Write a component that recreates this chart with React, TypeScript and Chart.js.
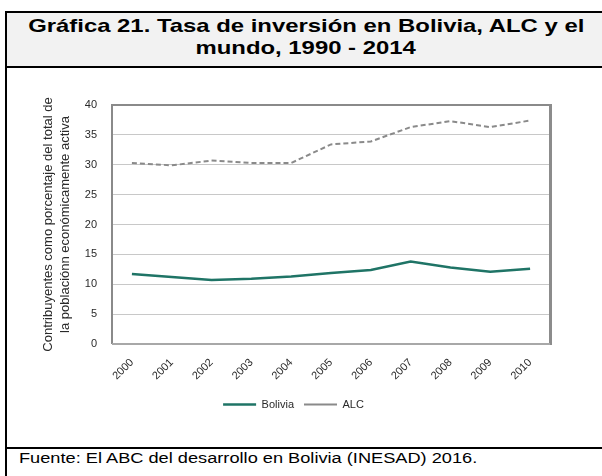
import React, { useEffect, useRef } from "react";
import { Chart, registerables } from "chart.js";

Chart.register(...registerables);

const years = ["2000", "2001", "2002", "2003", "2004", "2005", "2006", "2007", "2008", "2009", "2010"];
const bolivia = [11.7, 11.2, 10.7, 10.9, 11.3, 11.9, 12.4, 13.8, 12.8, 12.1, 12.6];
const alc = [30.3, 29.9, 30.7, 30.3, 30.3, 33.4, 33.9, 36.3, 37.3, 36.3, 37.4];
const yTitle = ["Contribuyentes como porcentaje del total de", "la poblaciónn económicamente activa"];
const titleLines = ["Gráfica 21. Tasa de inversión en Bolivia, ALC y el", "mundo, 1990 - 2014"];
const source = "Fuente: El ABC del desarrollo en Bolivia (INESAD) 2016.";

const framePlugin = {
  id: "frame",
  afterDatasetsDraw(chart: any) {
    const { ctx, chartArea } = chart;
    const { left, right, top, bottom } = chartArea;
    ctx.save();
    ctx.strokeStyle = "#8a8a8a";
    ctx.lineWidth = 2;
    ctx.beginPath();
    ctx.moveTo(left, bottom);
    ctx.lineTo(left, top);
    ctx.lineTo(right, top);
    ctx.stroke();
    ctx.strokeStyle = "#8c8c8c";
    ctx.lineWidth = 3;
    ctx.beginPath();
    ctx.moveTo(right + 0.5, top - 1);
    ctx.lineTo(right + 0.5, bottom + 1);
    ctx.stroke();
    ctx.strokeStyle = "#a8a8a8";
    ctx.lineWidth = 2;
    ctx.beginPath();
    ctx.moveTo(left, bottom);
    ctx.lineTo(right, bottom);
    ctx.stroke();
    ctx.restore();
  },
};

export default function App() {
  const ref = useRef<HTMLCanvasElement>(null);
  useEffect(() => {
    if (!ref.current) return;
    const chart = new Chart(ref.current, {
      type: "line",
      data: {
        labels: years,
        datasets: [
          {
            label: "Bolivia",
            data: bolivia,
            borderColor: "#1f7466",
            backgroundColor: "#1f7466",
            borderWidth: 2.5,
            pointRadius: 0,
            tension: 0,
          },
          {
            label: "ALC",
            data: alc,
            borderColor: "#8a8a8a",
            backgroundColor: "#8a8a8a",
            borderWidth: 2,
            borderDash: [5, 3],
            pointRadius: 0,
            tension: 0,
          },
        ],
      },
      options: {
        responsive: false,
        animation: false,
        layout: { padding: { top: 35, right: 52, left: 30, bottom: 27 } },
        plugins: {
          legend: {
            position: "bottom",
            labels: {
              usePointStyle: true,
              pointStyle: "line",
              pointStyleWidth: 33,
              padding: 10,
              color: "#2a2a2a",
              font: { family: "Liberation Sans, Arial, sans-serif", size: 11 },
            },
          },
          tooltip: { enabled: false },
        },
        scales: {
          x: {
            offset: true,
            grid: { display: false },
            border: { display: false },
            ticks: {
              minRotation: 45,
              maxRotation: 45,
              padding: 4,
              color: "#2a2a2a",
              font: { family: "Liberation Sans, Arial, sans-serif", size: 11 },
            },
            afterFit: (s: any) => {
              s.height = 45;
            },
          },
          y: {
            min: 0,
            max: 40,
            ticks: {
              stepSize: 5,
              padding: 15,
              color: "#2a2a2a",
              font: { family: "Liberation Sans, Arial, sans-serif", size: 11 },
            },
            grid: { color: "#c8c8c8", lineWidth: 1, drawTicks: false },
            border: { display: false },
            title: {
              display: true,
              text: yTitle,
              color: "#2a2a2a",
              padding: { top: 2.5, bottom: 0 },
              font: { family: "Liberation Sans, Arial, sans-serif", size: 13, lineHeight: 17 / 13 },
            },
            afterFit: (s: any) => {
              s.width = 75;
            },
          },
        },
      },
      plugins: [framePlugin],
    });
    return () => chart.destroy();
  }, []);

  const font = "Liberation Sans, Arial, Helvetica, sans-serif";
  return (
    <div>
      <div
        style={{
          position: "absolute",
          left: 5,
          top: 11,
          width: 597,
          height: 57,
          boxSizing: "border-box",
          borderTop: "2px solid #000",
          borderLeft: "2px solid #000",
          borderBottom: "2px solid #000",
          background: "#f2f2f2",
          paddingTop: 2,
          paddingLeft: 3,
          fontFamily: font,
          fontWeight: "bold",
          fontSize: 19,
          lineHeight: "22px",
          color: "#000",
          textAlign: "center",
          overflow: "hidden",
        }}
      >
        {titleLines.map((t) => (
          <div key={t} style={{ whiteSpace: "nowrap" }}>
            <span style={{ display: "inline-block", transform: "scaleX(1.257)" }}>{t}</span>
          </div>
        ))}
      </div>
      <div
        style={{
          position: "absolute",
          left: 5,
          top: 68,
          width: 597,
          height: 381,
          boxSizing: "border-box",
          borderLeft: "2px solid #000",
          borderBottom: "2px solid #000",
          background: "#fff",
        }}
      />
      <canvas
        ref={ref}
        width={595}
        height={377}
        style={{ position: "absolute", left: 7, top: 70, width: 595, height: 377 }}
      />
      <div
        style={{
          position: "absolute",
          left: 5,
          top: 449,
          width: 597,
          height: 27,
          boxSizing: "border-box",
          borderLeft: "2px solid #000",
          paddingLeft: 12,
          paddingTop: 1,
          fontFamily: font,
          fontSize: 14,
          lineHeight: "16px",
          color: "#000",
          whiteSpace: "nowrap",
          overflow: "hidden",
        }}
      >
        <span style={{ display: "inline-block", transform: "scaleX(1.3)", transformOrigin: "left center" }}>{source}</span>
      </div>
    </div>
  );
}
